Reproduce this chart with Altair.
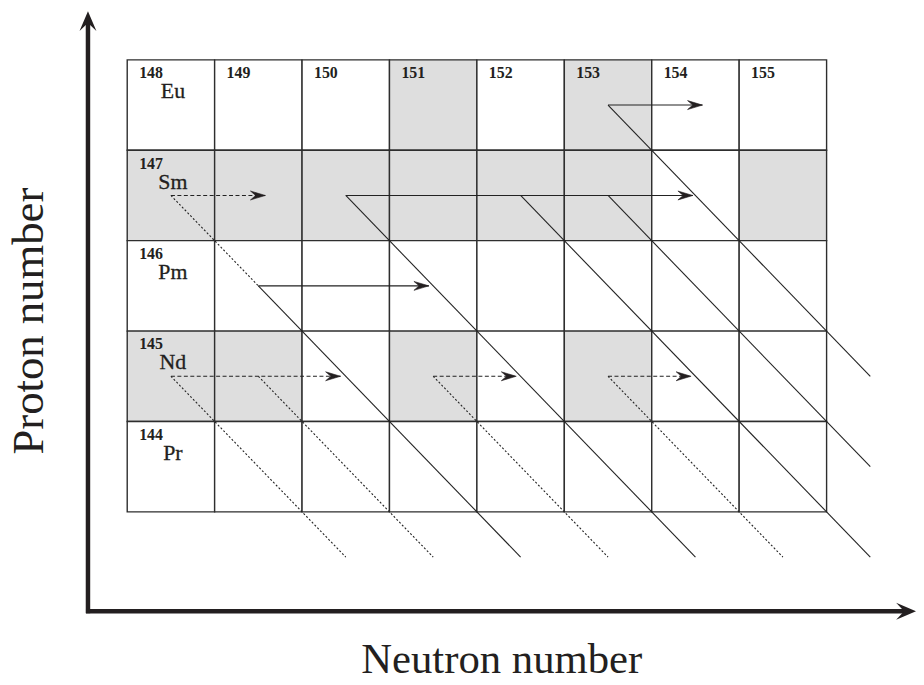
import altair as alt
import pandas as pd

# ---- grid content -------------------------------------------------------
elements = ["Eu", "Sm", "Pm", "Nd", "Pr"]
proton_numbers = [63, 62, 61, 60, 59]
row_mass_numbers = [148, 147, 146, 145, 144]          # first cell of each row
neutron_numbers = [85, 86, 87, 88, 89, 90, 91, 92]
top_mass_numbers = [148, 149, 150, 151, 152, 153, 154, 155]

# shaded (grey) cells
shaded_N = [88, 90, 85, 86, 87, 88, 89, 90, 92, 85, 86, 88, 90]
shaded_Z = [63, 63, 62, 62, 62, 62, 62, 62, 62, 60, 60, 60, 60]

# horizontal arrows (neutron capture): from N0 to arrow tip N1 at Z
dash_cap_N0 = [85, 85, 88, 90]
dash_cap_N1 = [86.08, 86.94, 88.95, 90.95]
dash_cap_Z = [62, 60, 60, 60]
solid_cap_N0 = [86, 87, 90]
solid_cap_N1 = [87.95, 90.97, 91.08]
solid_cap_Z = [61, 62, 63]

# diagonal lines: (N0, Z0) -> (N1, Z1)
dot_N0 = [85, 85, 86, 88, 90]
dot_Z0 = [62, 60, 60, 60, 60]
dot_N1 = [86, 87, 88, 90, 92]
dot_Z1 = [61, 58, 58, 58, 58]
solid_N0 = [86, 87, 89, 90, 90]
solid_Z0 = [61, 62, 62, 62, 63]
solid_N1 = [89, 91, 93, 93, 93]
solid_Z1 = [58, 58, 58, 59, 60]

# ---- tables ---------------------------------------------------------------
shaded_set = set(zip(shaded_N, shaded_Z))
cells = pd.DataFrame(
    [
        {"N": n, "Z": z, "shade": "grey" if (n, z) in shaded_set else "white"}
        for z in proton_numbers
        for n in neutron_numbers
    ]
)
cells["x0"] = cells["N"] - 0.5
cells["x1"] = cells["N"] + 0.5
cells["y0"] = cells["Z"] - 0.5
cells["y1"] = cells["Z"] + 0.5

num_labels = pd.DataFrame(
    [{"x": n - 0.5, "y": proton_numbers[0] + 0.5, "t": str(m)}
     for n, m in zip(neutron_numbers, top_mass_numbers)]
    + [{"x": neutron_numbers[0] - 0.5, "y": z + 0.5, "t": str(m)}
       for z, m in zip(proton_numbers[1:], row_mass_numbers[1:])]
)
elem_labels = pd.DataFrame(
    [{"x": neutron_numbers[0] - 0.5, "y": z + 0.5, "t": e}
     for z, e in zip(proton_numbers, elements)]
)

dash_h = pd.DataFrame({"x": dash_cap_N0, "x2": dash_cap_N1, "y": dash_cap_Z, "y2": dash_cap_Z})
solid_h = pd.DataFrame({"x": solid_cap_N0, "x2": solid_cap_N1, "y": solid_cap_Z, "y2": solid_cap_Z})
dot_d = pd.DataFrame({"x": dot_N0, "x2": dot_N1, "y": dot_Z0, "y2": dot_Z1})
solid_d = pd.DataFrame({"x": solid_N0, "x2": solid_N1, "y": solid_Z0, "y2": solid_Z1})
heads = pd.DataFrame({"x": dash_cap_N1 + solid_cap_N1, "y": dash_cap_Z + solid_cap_Z})

# ---- scales ---------------------------------------------------------------
W, H = 914, 669
xs = alt.Scale(domain=[84.5 - 120 / 88, 84.5 + (W - 120) / 88], nice=False, zero=False)
ys = alt.Scale(domain=[58.5 - (H - 505) / 91, 58.5 + 505 / 91], nice=False, zero=False)


def X(f="x"):
    return alt.X(f"{f}:Q", scale=xs, axis=None)


def Y(f="y"):
    return alt.Y(f"{f}:Q", scale=ys, axis=None)


INK = "#231f20"
FONT = "Liberation Serif"
HEAD = "M0,0L-2,-0.6L-1.3,0L-2,0.6Z"
BIGHEAD = "M0,0L-2,-0.85L-1.2,0L-2,0.85Z"

rects = alt.Chart(cells).mark_rect(stroke="#2e2e2e", strokeWidth=1.4).encode(
    x=X("x0"), x2="x1:Q", y=Y("y0"), y2="y1:Q",
    fill=alt.Fill("shade:N", scale=alt.Scale(domain=["white", "grey"], range=["#ffffff", "#dedede"]), legend=None),
)

dotted = alt.Chart(dot_d).mark_rule(color="#222222", strokeWidth=1.1, strokeDash=[2, 2]).encode(
    x=X(), x2="x2:Q", y=Y(), y2="y2:Q")
dashed = alt.Chart(dash_h).mark_rule(color="#222222", strokeWidth=1.1, strokeDash=[4, 2.5]).encode(
    x=X(), x2="x2:Q", y=Y(), y2="y2:Q")
solid1 = alt.Chart(solid_h).mark_rule(color="#222222", strokeWidth=1.1).encode(
    x=X(), x2="x2:Q", y=Y(), y2="y2:Q")
solid2 = alt.Chart(solid_d).mark_rule(color="#222222", strokeWidth=1.1).encode(
    x=X(), x2="x2:Q", y=Y(), y2="y2:Q")
arrowheads = alt.Chart(heads).mark_point(
    shape=HEAD, size=225, filled=True, color=INK, opacity=1, stroke=INK, strokeWidth=0.6
).encode(x=X(), y=Y())

nums = alt.Chart(num_labels).mark_text(
    font=FONT, fontSize=16, fontWeight="bold", align="left", baseline="alphabetic",
    dx=12, dy=18.5, color=INK
).encode(x=X(), y=Y(), text="t:N")
elems = alt.Chart(elem_labels).mark_text(
    font=FONT, fontSize=22, align="center", baseline="alphabetic",
    dx=46, dy=38.5, color=INK, stroke=INK, strokeWidth=0.3
).encode(x=X(), y=Y(), text="t:N")

one = alt.Data(values=[{}])
# frame arrows (pixel positions of the view)
yaxis = alt.Chart(one).mark_rule(color=INK, strokeWidth=4.5).encode(
    x=alt.value(80.5), x2=alt.value(80.5), y=alt.value(607), y2=alt.value(12))
xaxis = alt.Chart(one).mark_rule(color=INK, strokeWidth=4.5).encode(
    x=alt.value(78.5), x2=alt.value(905), y=alt.value(605), y2=alt.value(605))
yhead = alt.Chart(one).mark_point(
    shape=BIGHEAD, size=400, filled=True, color=INK, opacity=1, strokeWidth=0, angle=270
).encode(x=alt.value(80.5), y=alt.value(1))
xhead = alt.Chart(one).mark_point(
    shape=BIGHEAD, size=400, filled=True, color=INK, opacity=1, strokeWidth=0
).encode(x=alt.value(914), y=alt.value(605))

xtitle = alt.Chart(one).mark_text(
    font=FONT, fontSize=43, align="center", baseline="alphabetic", color=INK
).encode(x=alt.value(497), y=alt.value(667), text=alt.value("Neutron number"))
ytitle = alt.Chart(one).mark_text(
    font=FONT, fontSize=45, align="center", baseline="alphabetic", color=INK, angle=270
).encode(x=alt.value(35), y=alt.value(313), text=alt.value("Proton number"))

chart = alt.layer(
    rects, dotted, dashed, solid1, solid2, arrowheads, nums, elems,
    yaxis, xaxis, yhead, xhead, xtitle, ytitle
).properties(
    width=W, height=H, autosize=alt.AutoSizeParams(type="none"), padding=0
).configure_view(stroke=None)

chart.save("out.html", embed_options={"renderer": "svg", "actions": False})
